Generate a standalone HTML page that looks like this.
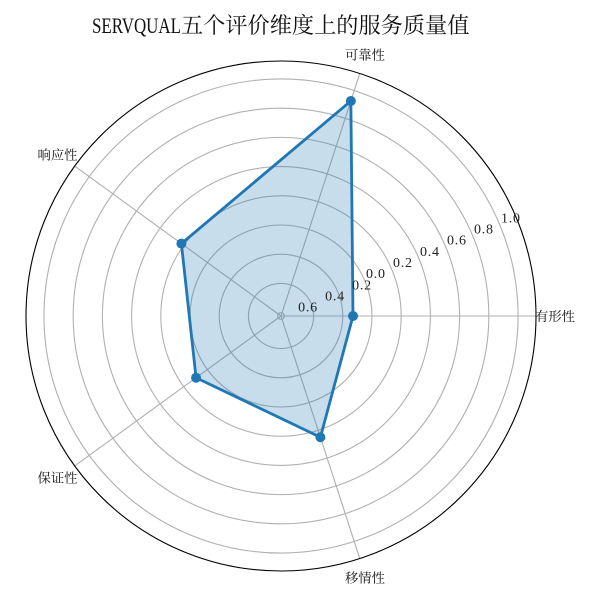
<!DOCTYPE html>
<html>
<head>
<meta charset="utf-8">
<style>
html,body{margin:0;padding:0;background:#fff;}
svg{display:block;}
</style>
</head>
<body>
<svg id="chart" xmlns="http://www.w3.org/2000/svg" width="600" height="600" viewBox="0 0 600 600">
  <rect width="600" height="600" fill="#ffffff"/>
  <text font-family="'Liberation Serif',serif" x="92" y="33" font-size="22" textLength="89" lengthAdjust="spacingAndGlyphs" fill="#111">SERVQUAL</text>
  <text font-family="'Noto Serif CJK SC',serif" x="181" y="33" font-size="22.2" fill="#111">五个评价维度上的服务质量值</text>
  <g id="plot"></g>
</svg>
<script>
const categories = ['有形性', '可靠性', '响应性', '保证性', '移情性'];
const serviceValues = [-0.13, 0.925, 0.22, 0.096, 0.25];
const radialTicks = [-0.6, -0.4, -0.2, 0, 0.2, 0.4, 0.6, 0.8, 1.0];
const radialTickLabels = ['0.6', '0.4', '0.2', '0.0', '0.2', '0.4', '0.6', '0.8', '1.0'];

const NS = 'http://www.w3.org/2000/svg';
const plot = document.getElementById('plot');
const cx = 281, cy = 316, outerR = 255;
const rMin = -0.623, rMax = 1.123;

function rScale(v) {
  return (v - rMin) / (rMax - rMin) * outerR;
}
function angleScale(i) {
  return i / categories.length * 2 * Math.PI;
}
function polar(radius, angle) {
  return [cx + radius * Math.cos(angle), cy - radius * Math.sin(angle)];
}
function make(tag, attrs, parent) {
  const el = document.createElementNS(NS, tag);
  for (const k in attrs) el.setAttribute(k, attrs[k]);
  parent.appendChild(el);
  return el;
}

radialTicks.forEach(function (t, i) {
  const c = make('circle', {cx: cx, cy: cy, r: rScale(t), fill: 'none', stroke: '#b0b0b0', 'stroke-width': 1.1}, plot);
  
  
});

categories.forEach(function (name, i) {
  const p = polar(outerR, angleScale(i));
  const l = make('line', {x1: cx, y1: cy, x2: p[0], y2: p[1], stroke: '#b0b0b0', 'stroke-width': 1.1}, plot);
  
  
});

const points = serviceValues.map(function (v, i) {
  return polar(rScale(v), angleScale(i));
});
const ptsAttr = points.map(function (p) { return p[0].toFixed(2) + ',' + p[1].toFixed(2); }).join(' ');

const area = make('polygon', {points: ptsAttr, fill: '#1f77b4', 'fill-opacity': 0.25, stroke: 'none'}, plot);



const outline = make('polygon', {points: ptsAttr, fill: 'none', stroke: '#1f77b4', 'stroke-width': 2.8, 'stroke-linejoin': 'round'}, plot);



points.forEach(function (p) {
  const m = make('circle', {cx: p[0], cy: p[1], r: 5, fill: '#1f77b4'}, plot);
  
  
});

const border = make('circle', {cx: cx, cy: cy, r: outerR, fill: 'none', stroke: '#000', 'stroke-width': 1.1}, plot);



const labelAngle = 22.5 * Math.PI / 180;
radialTicks.forEach(function (t, i) {
  const p = polar(rScale(t), labelAngle);
  const shift = t < 0 ? 14 : 1;
  const txt = make('text', {x: p[0] + shift, y: p[1] - 3, 'font-size': 14, textLength: 19, lengthAdjust: 'spacing', fill: '#222', 'font-family': '"Liberation Serif",serif'}, plot);
  txt.textContent = radialTickLabels[i];
  
  
});

categories.forEach(function (name, i) {
  const p = polar(275, angleScale(i));
  const txt = make('text', {x: p[0] - 1, y: p[1] + 5, 'font-size': 13.33, 'text-anchor': 'middle', fill: '#111', 'font-family': '"Noto Serif CJK SC",serif'}, plot);
  txt.textContent = name;
  
  
});
</script>
</body>
</html>
